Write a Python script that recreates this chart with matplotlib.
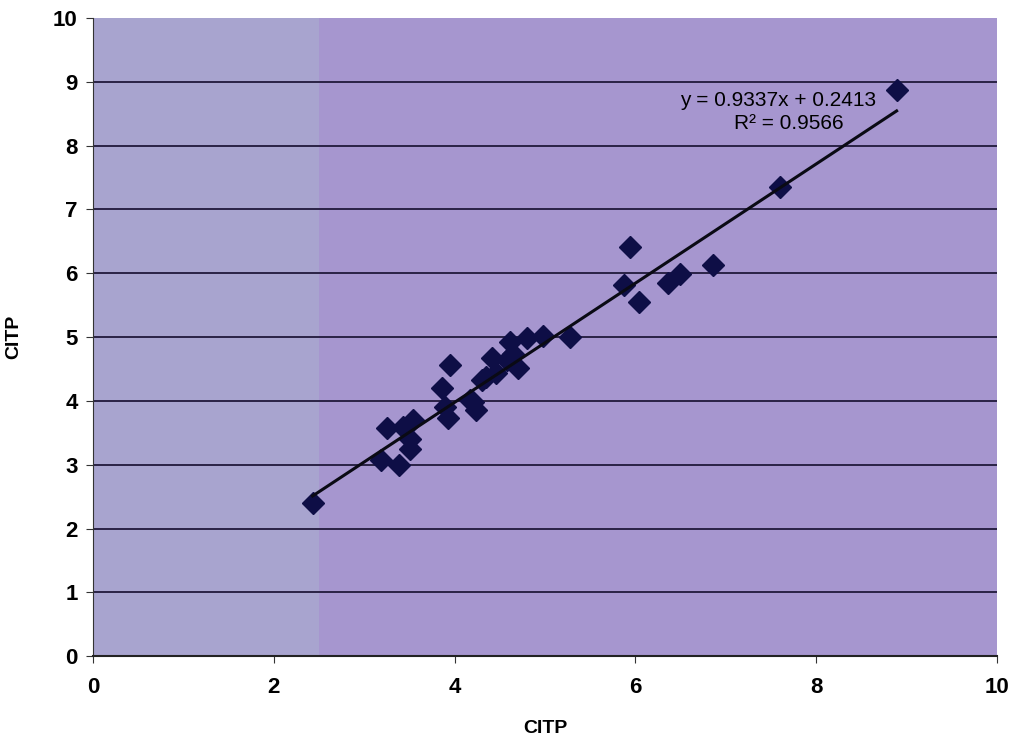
import numpy as np
import matplotlib.pyplot as plt
from matplotlib.patches import Rectangle

# CITP vs CITP scatter
citp_x = [2.43, 3.19, 3.25, 3.38, 3.43, 3.51, 3.51, 3.54, 3.86, 3.89, 3.93, 3.95,
          4.17, 4.20, 4.24, 4.30, 4.35, 4.41, 4.46, 4.58, 4.61, 4.65, 4.70, 4.80,
          4.98, 5.28, 5.87, 5.94, 6.04, 6.36, 6.49, 6.86, 7.60, 8.89]
citp_y = [2.40, 3.08, 3.57, 3.00, 3.59, 3.41, 3.25, 3.70, 4.20, 3.91, 3.73, 4.56,
          4.01, 3.99, 3.86, 4.33, 4.38, 4.67, 4.43, 4.64, 4.93, 4.74, 4.51, 4.98,
          5.01, 5.00, 5.82, 6.41, 5.55, 5.84, 5.99, 6.13, 7.35, 8.87]

slope = 0.9337
intercept = 0.2413
r_squared = 0.9566

ticks = [0, 2, 4, 6, 8, 10]
yticks = list(range(0, 11))

plt.rcParams['font.family'] = ['Liberation Sans', 'DejaVu Sans']

fig = plt.figure(figsize=(10.17, 7.44), dpi=100)
ax = fig.add_axes([0.0914, 0.118, 0.8889, 0.858])

# plot area: purple with a lighter strip on the left
ax.set_facecolor('#a696cf')
ax.add_patch(Rectangle((0, 0), 2.5, 10, facecolor='#a8a4cf', edgecolor='none', zorder=0))

ax.set_xlim(0, 10)
ax.set_ylim(0, 10)
ax.set_xticks(ticks)
ax.set_yticks(yticks)

for v in yticks[1:-1]:
    ax.axhline(v, color='#2a2246', lw=1.4, zorder=1)

ax.plot(citp_x, citp_y, linestyle='none', marker='D', ms=11,
        color='#0e0e46', zorder=3)

xs = np.array([min(citp_x), max(citp_x)])
ax.plot(xs, slope * xs + intercept, color='#0a0a14', lw=2.2, zorder=4)

ax.text(7.58, 8.71, f"y = {slope}x + {intercept}", fontsize=15, ha='center', va='center', zorder=5)
ax.text(7.7, 8.35, f"R\u00b2 = {r_squared}", fontsize=15, ha='center', va='center', zorder=5)

for s in ['top', 'right']:
    ax.spines[s].set_visible(False)
ax.spines['left'].set_color('#333333')
ax.spines['bottom'].set_color('#222222')
ax.spines['bottom'].set_linewidth(1.5)
ax.tick_params(labelsize=16, length=5, color='#333333')
for lbl in ax.get_xticklabels() + ax.get_yticklabels():
    lbl.set_fontweight('bold')
ax.tick_params(axis='x', pad=10)
ax.tick_params(axis='y', pad=6)

ax.set_xlabel("CITP", fontsize=14, fontweight='bold', labelpad=16)
ax.set_ylabel("CITP", fontsize=14, fontweight='bold', labelpad=22)

fig.savefig('out.png', dpi=100)
